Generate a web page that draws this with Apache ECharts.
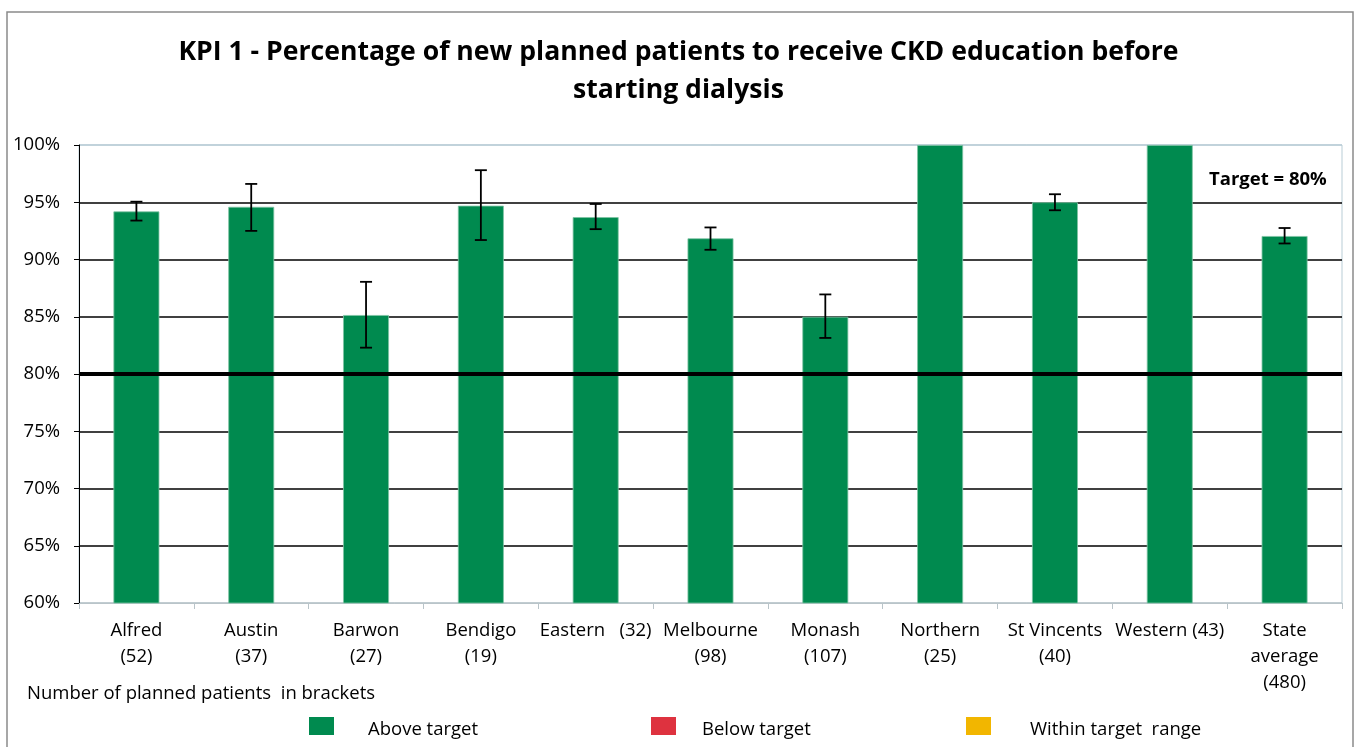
<!DOCTYPE html>
<html>
<head>
<meta charset="utf-8">
<script src="https://cdn.jsdelivr.net/npm/echarts@6/dist/echarts.min.js"></script>
<style>
html,body{margin:0;padding:0;background:#fff;}
#chart{width:1357px;height:747px;}
</style>
</head>
<body>
<div id="chart"></div>
<script>
const categories = ['Alfred\n(52)','Austin\n(37)','Barwon\n(27)','Bendigo\n(19)','Eastern   (32)','Melbourne\n(98)','Monash\n(107)','Northern\n(25)','St Vincents\n(40)','Western (43)','State\naverage\n(480)'];
const values = [94.2, 94.6, 85.15, 94.7, 93.7, 91.85, 85.0, 100, 95.0, 100, 92.05];
const errLow = [93.4, 92.5, 82.3, 91.7, 92.65, 90.85, 83.15, null, 94.3, null, 91.4];
const errHigh = [95.05, 96.6, 88.05, 97.8, 94.85, 92.8, 86.95, null, 95.7, null, 92.75];
const target = 80;
const yTicks = [60, 100, 5];
const legendNames = ['Above target', 'Below target', 'Within target  range'];

const FONT = 'Open Sans';
const FS = 18.5;
const chart = echarts.init(document.getElementById('chart'));
const errData = categories.map((c, i) => [i, errLow[i], errHigh[i]]).filter(d => d[1] != null);

function legendAt(name, left, gap) {
  return { data: [name], left: left, top: 717, padding: 0,
    icon: 'path://M0,0H25V18H0Z M0,26L0.01,26', itemWidth: 25, itemHeight: 26, selectedMode: false,
    itemStyle: { borderWidth: 0 },
    textStyle: { fontSize: FS, color: '#000', fontFamily: FONT, padding: [0, 0, 0, gap] } };
}

chart.setOption({
  animation: false,
  textStyle: { fontFamily: FONT },
  title: {
    text: 'KPI 1 - Percentage of new planned patients to receive CKD education before\nstarting dialysis',
    left: 'center', top: 28,
    textStyle: { fontFamily: FONT, fontWeight: 'bold', fontSize: 26.6, lineHeight: 38, color: '#000' }
  },
  grid: { left: 79, right: 15, top: 145, bottom: 144, show: true, borderColor: '#b9cdd6', borderWidth: 1, backgroundColor: 'transparent' },
  xAxis: {
    type: 'category', data: categories,
    axisLine: { lineStyle: { color: '#b9c4c9', width: 1 } },
    axisTick: { show: true, length: 6, lineStyle: { color: '#b9c4c9' } },
    axisLabel: { color: '#000', fontSize: FS, lineHeight: 26, margin: 15, interval: 0, fontFamily: FONT }
  },
  yAxis: {
    type: 'value', min: yTicks[0], max: yTicks[1], interval: yTicks[2],
    axisLine: { show: true, lineStyle: { color: '#000', width: 1 } },
    axisTick: { show: true, length: 5, lineStyle: { color: '#000' } },
    axisLabel: { color: '#000', fontSize: FS, margin: 19, formatter: '{value}%', fontFamily: FONT },
    splitLine: { show: true, lineStyle: { width: 1.5, color: ['#b9c4c9','#000','#000','#000','#000','#000','#000','#000','#b9cdd6'] } }
  },
  legend: [
    legendAt(legendNames[0], 309, 29),
    legendAt(legendNames[1], 651, 21),
    legendAt(legendNames[2], 966, 34)
  ],
  graphic: [
    { type: 'rect', shape: { x: 7, y: 12, width: 1346, height: 800 }, style: { fill: 'none', stroke: '#8a8a8a', lineWidth: 1.5 }, silent: true, z: -1 },
    { type: 'text', left: 27, top: 684, style: { text: 'Number of planned patients  in brackets', font: FS + 'px "Open Sans"', fill: '#000' } },
    { type: 'text', left: 1209, top: 170, style: { text: 'Target = 80%', font: 'bold ' + FS + 'px "Open Sans"', fill: '#000' } }
  ],
  series: [
    {
      name: legendNames[0], type: 'bar', data: values, barWidth: '40%',
      itemStyle: { color: '#008a4f', borderColor: '#7fc4a5', borderWidth: 0.8 },
      markLine: {
        silent: true, symbol: 'none', label: { show: false },
        lineStyle: { color: '#000', width: 4, type: 'solid' },
        data: [{ yAxis: target }]
      },
      z: 2
    },
    { name: legendNames[1], type: 'line', data: [], showSymbol: false, itemStyle: { color: '#de323f' }, lineStyle: { color: '#de323f' } },
    { name: legendNames[2], type: 'line', data: [], showSymbol: false, itemStyle: { color: '#f2b600' }, lineStyle: { color: '#f2b600' } },
    {
      name: 'error', type: 'custom', data: errData, z: 5,
      renderItem: function (params, api) {
        const x = api.value(0);
        const lo = api.coord([x, api.value(1)]);
        const hi = api.coord([x, api.value(2)]);
        const h = 6;
        const st = { stroke: '#000', lineWidth: 1.8 };
        return { type: 'group', children: [
          { type: 'line', shape: { x1: lo[0], y1: lo[1], x2: hi[0], y2: hi[1] }, style: st },
          { type: 'line', shape: { x1: lo[0]-h, y1: lo[1], x2: lo[0]+h, y2: lo[1] }, style: st },
          { type: 'line', shape: { x1: hi[0]-h, y1: hi[1], x2: hi[0]+h, y2: hi[1] }, style: st }
        ]};
      }
    }
  ]
});
</script>
</body>
</html>
